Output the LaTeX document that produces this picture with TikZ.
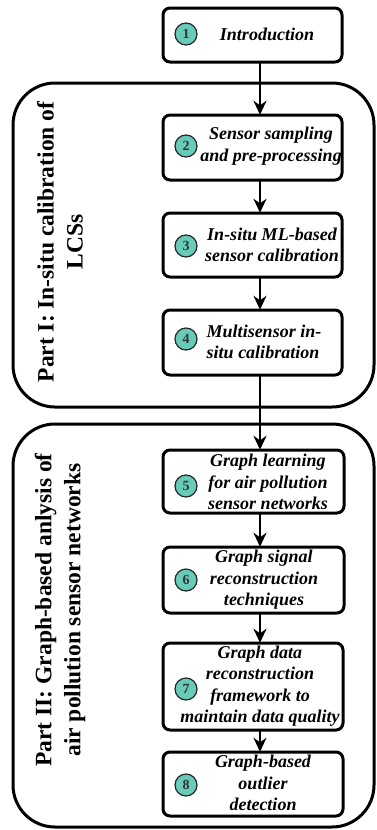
\documentclass[tikz,border=0pt]{standalone}
\usepackage{fontspec}
\setmainfont{Liberation Serif}
\usetikzlibrary{arrows.meta,calc}
\definecolor{teal1}{RGB}{104,202,184}
\tikzset{
  partbox/.style={draw=black,line width=3bp,rounded corners=42bp},
  stepbox/.style={draw=black,line width=3bp,rounded corners=7bp},
  steptext/.style={font=\fontsize{18bp}{21.5bp}\selectfont\bfseries\itshape,align=center,inner sep=0pt},
  numcirc/.style={circle,draw=black!85,line width=1.2bp,fill=teal1,minimum size=22bp,inner sep=0pt,font=\fontsize{14bp}{14bp}\selectfont\bfseries,text=black!80},
  parttext/.style={font=\fontsize{23.5bp}{29bp}\selectfont\bfseries,align=center,rotate=90,inner sep=0pt},
  arr/.style={line width=2.8bp,-{Stealth[length=14bp,width=13bp]}}
}
\begin{document}
\begin{tikzpicture}[x=1bp,y=-1bp]
\useasboundingbox (0,0) rectangle (376,830);
\coordinate (ax) at (260,0);
% part boxes
\draw[partbox] (13,83) rectangle (374,407);
\draw[partbox] (13,424) rectangle (374,827);
\node[parttext] (p1) at (60,242) {Part I: In-situ calibration of\\LCSs};
\node[parttext] (p2) at (60,610) {Part II: Graph-based anlysis of\\air pollution sensor networks};
% step boxes
\draw[stepbox] (163,8) rectangle (342,62) coordinate[pos=0.5] (c1);
\node[minimum width=179bp,minimum height=54bp] (b1) at (c1) {};
\draw[stepbox] (163,115) rectangle (342,180) coordinate[pos=0.5] (c2);
\node[minimum width=179bp,minimum height=65bp] (b2) at (c2) {};
\draw[stepbox] (163,213) rectangle (342,277) coordinate[pos=0.5] (c3);
\node[minimum width=179bp,minimum height=64bp] (b3) at (c3) {};
\draw[stepbox] (163,310) rectangle (342,375) coordinate[pos=0.5] (c4);
\node[minimum width=179bp,minimum height=65bp] (b4) at (c4) {};
\draw[stepbox] (163,450) rectangle (344,513) coordinate[pos=0.5] (c5);
\node[minimum width=181bp,minimum height=63bp] (b5) at (c5) {};
\draw[stepbox] (163,547) rectangle (344,613) coordinate[pos=0.5] (c6);
\node[minimum width=181bp,minimum height=66bp] (b6) at (c6) {};
\draw[stepbox] (163,643) rectangle (343,730) coordinate[pos=0.5] (c7);
\node[minimum width=180bp,minimum height=87bp] (b7) at (c7) {};
\draw[stepbox] (163,752) rectangle (343,816) coordinate[pos=0.5] (c8);
\node[minimum width=180bp,minimum height=64bp] (b8) at (c8) {};
% circles
\node[numcirc] (n1) at (186,34) {1};
\node[numcirc] (n2) at (186,146) {2};
\node[numcirc] (n3) at (186,246) {3};
\node[numcirc] (n4) at (186,339) {4};
\node[numcirc] (n5) at (186,486) {5};
\node[numcirc] (n6) at (186,580) {6};
\node[numcirc] (n7) at (186,689) {7};
\node[numcirc] (n8) at (186,785) {8};
% texts
\node[steptext] (t1) at (267,34) {Introduction};
\node[steptext] (t2) at (271,146) {Sensor sampling\\and pre-processing};
\node[steptext] (t3) at (272,245) {In-situ ML-based\\sensor calibration};
\node[steptext,align=left] (t4) at (264,342) {Multisensor in-\\situ calibration};
\node[steptext] (t5) at (268,482) {Graph learning\\for air pollution\\sensor networks};
\node[steptext] (t6) at (264,580) {Graph signal\\reconstruction\\techniques};
\node[steptext] (t7) at (260,686) {Graph data\\reconstruction\\framework to\\maintain data quality};
\node[steptext] (t8) at (263,783) {Graph-based\\outlier\\detection};
% arrows
\draw[arr] (b1.south -| ax) -- (b2.north -| ax);
\draw[arr] (b2.south -| ax) -- (b3.north -| ax);
\draw[arr] (b3.south -| ax) -- (b4.north -| ax);
\draw[arr] (b4.south -| ax) -- (b5.north -| ax);
\draw[arr] (b5.south -| ax) -- (b6.north -| ax);
\draw[arr] (b6.south -| ax) -- (b7.north -| ax);
\draw[arr] (b7.south -| ax) -- (b8.north -| ax);
\end{tikzpicture}
\end{document}
